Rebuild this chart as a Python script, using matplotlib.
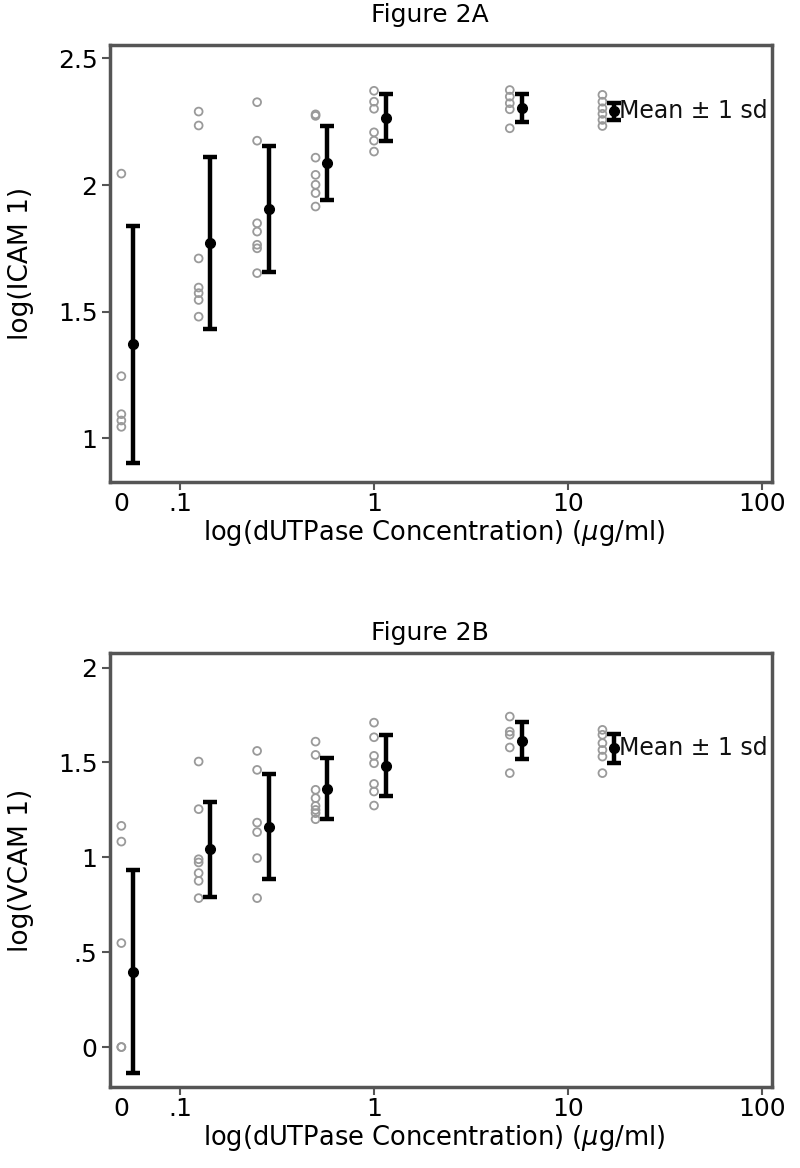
import matplotlib
matplotlib.use("Agg")
import matplotlib.pyplot as plt

# concentrations (0 is drawn at 0.05 and labelled "0")
conc = [0.05, 0.125, 0.25, 0.5, 1, 5, 15]
mean_pos = [0.0575, 0.143, 0.287, 0.575, 1.15, 5.75, 17.2]

# Figure 2A : log(ICAM 1)
icam_points = [
    [2.045, 1.245, 1.095, 1.07, 1.045],
    [2.29, 2.235, 1.71, 1.595, 1.573, 1.546, 1.48],
    [2.327, 2.175, 1.849, 1.816, 1.764, 1.75, 1.652],
    [2.279, 2.273, 2.108, 2.04, 2.001, 1.968, 1.915],
    [2.372, 2.329, 2.301, 2.208, 2.175, 2.132],
    [2.375, 2.349, 2.323, 2.299, 2.224],
    [2.356, 2.329, 2.303, 2.281, 2.257, 2.233],
]
icam_mean = [1.371, 1.77, 1.906, 2.086, 2.266, 2.303, 2.291]
icam_sd = [0.468, 0.34, 0.248, 0.147, 0.092, 0.056, 0.033]

# Figure 2B : log(VCAM 1)
vcam_points = [
    [1.166, 1.083, 0.548, 0.0, 0.0],
    [1.505, 1.254, 0.99, 0.973, 0.917, 0.876, 0.785],
    [1.561, 1.461, 1.183, 1.133, 0.996, 0.785],
    [1.61, 1.54, 1.356, 1.312, 1.271, 1.25, 1.233, 1.201],
    [1.71, 1.633, 1.535, 1.496, 1.387, 1.347, 1.273],
    [1.742, 1.663, 1.646, 1.579, 1.444],
    [1.672, 1.646, 1.602, 1.566, 1.531, 1.444],
]
vcam_mean = [0.398, 1.043, 1.162, 1.361, 1.484, 1.614, 1.575]
vcam_sd = [0.537, 0.25, 0.275, 0.161, 0.159, 0.097, 0.077]

xticks = [0.05, 0.1, 1, 10, 100]
xticklabels = ["0", ".1", "1", "10", "100"]

frame_col = "#555555"

fig = plt.figure(figsize=(8, 11.68), dpi=100)


def panel(rect, points, means, sds, yticks, yticklabels, ylim, ylabel, title, title_y):
    ax = fig.add_axes(rect)
    for x, ys in zip(conc, points):
        ax.scatter([x] * len(ys), ys, s=32, facecolors="none",
                   edgecolors="#9a9a9a", linewidths=1.3, zorder=2)
    ax.errorbar(mean_pos, means, yerr=sds, fmt="o", color="black",
                ms=7, elinewidth=3.2, capsize=5, capthick=3.2, zorder=3)
    ax.text(mean_pos[-1] * 1.06, means[-1], "Mean \u00b1 1 sd", fontsize=17,
            va="center", ha="left", color="#111111")
    ax.set_xscale("log")
    ax.set_xlim(0.0437, 112)
    ax.set_ylim(*ylim)
    ax.minorticks_off()
    ax.set_xticks(xticks)
    ax.set_xticklabels(xticklabels, fontsize=18)
    ax.xaxis.get_major_ticks()[0].tick1line.set_visible(False)
    ax.set_yticks(yticks)
    ax.set_yticklabels(yticklabels, fontsize=18)
    ax.tick_params(direction="out", length=6, width=1.5, color=frame_col, pad=3)
    ax.tick_params(axis="x", pad=1)
    for s in ax.spines.values():
        s.set_color(frame_col)
        s.set_linewidth(2.5)
    ax.set_xlabel(r"log(dUTPase Concentration) ($\mu$g/ml)", fontsize=18.5)
    ax.xaxis.set_label_coords(0.49, -0.083)
    ax.set_ylabel(ylabel, fontsize=19)
    ax.yaxis.set_label_coords(-0.115, 0.5)
    fig.text(0.5375, title_y, title, fontsize=18, ha="center", va="center")
    return ax


panel([0.1375, 0.5873, 0.8275, 0.3742], icam_points, icam_mean, icam_sd,
      [1, 1.5, 2, 2.5], ["1", "1.5", "2", "2.5"], (0.827, 2.553),
      "log(ICAM 1)", "Figure 2A", 1 - 15 / 1168)
panel([0.1375, 0.0693, 0.8275, 0.3716], vcam_points, vcam_mean, vcam_sd,
      [0, 0.5, 1, 1.5, 2], ["0", ".5", "1", "1.5", "2"], (-0.211, 2.077),
      "log(VCAM 1)", "Figure 2B", 1 - 633 / 1168)

fig.savefig("out.png", dpi=100)
